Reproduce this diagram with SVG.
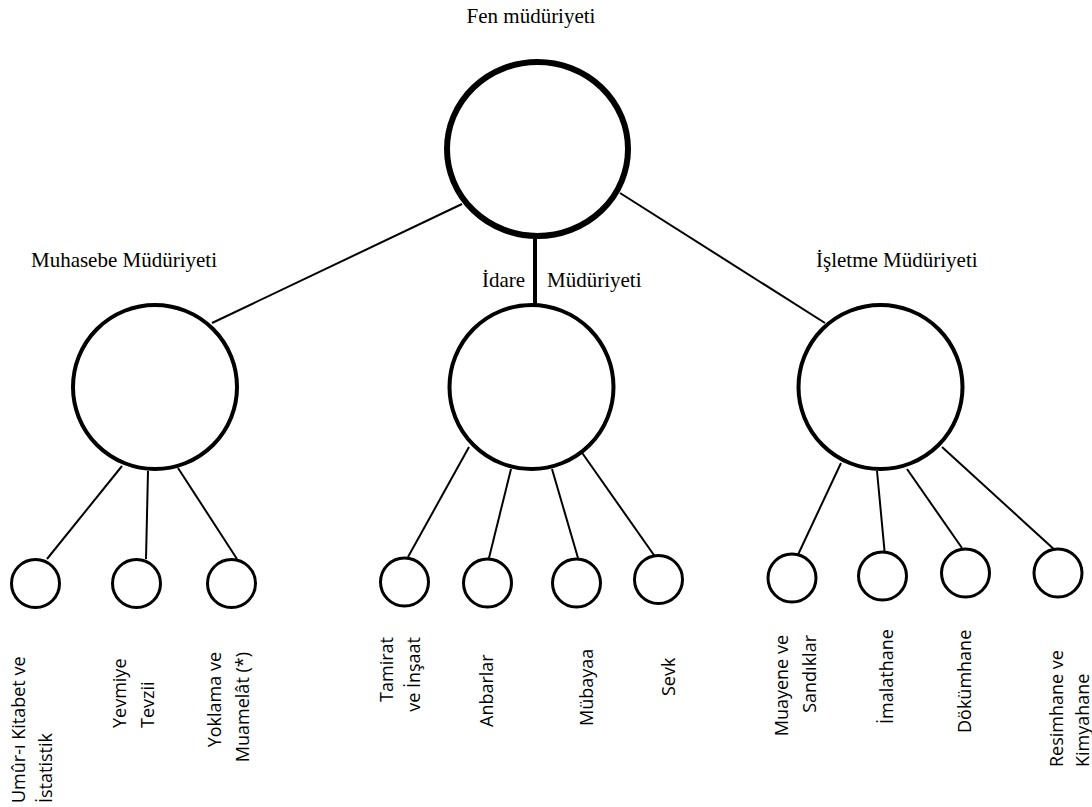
<svg xmlns="http://www.w3.org/2000/svg" width="1092" height="807" viewBox="0 0 1092 807">
<style>
.title{font-family:"Liberation Serif","Times New Roman",serif;font-size:21px;fill:#000}
.lbl{font-family:"Open Sans","Noto Sans",sans-serif;font-size:18px;fill:#000}
.top{fill:#fff;stroke:#000;stroke-width:6}
.mid{fill:#fff;stroke:#000;stroke-width:4}
.leaf{fill:#fff;stroke:#000;stroke-width:3}
.edge{stroke:#000;stroke-width:2;fill:none}
.trunk{stroke:#000;stroke-width:4;fill:none}
</style>
<rect width="1092" height="807" fill="#fff"/>
<g id="connectors">
<line class="edge" x1="462" y1="204" x2="212" y2="323"/>
<line class="edge" x1="620" y1="193" x2="825" y2="323"/>
<line class="trunk" x1="535" y1="236" x2="535" y2="305"/>
<line class="edge" x1="122" y1="466" x2="47" y2="559"/>
<line class="edge" x1="148" y1="471" x2="146" y2="559"/>
<line class="edge" x1="178" y1="468" x2="237" y2="559"/>
<line class="edge" x1="469" y1="447" x2="408" y2="557"/>
<line class="edge" x1="511" y1="469" x2="489" y2="558"/>
<line class="edge" x1="552" y1="469" x2="578" y2="558"/>
<line class="edge" x1="578" y1="447" x2="656" y2="558"/>
<line class="edge" x1="841" y1="463" x2="796" y2="559"/>
<line class="edge" x1="877" y1="471" x2="885" y2="556"/>
<line class="edge" x1="907" y1="469" x2="962" y2="548"/>
<line class="edge" x1="942" y1="447" x2="1057" y2="552"/>
</g>
<g id="fen">
<ellipse class="top" cx="537.5" cy="149" rx="90.5" ry="87"/>
<text class="title" x="531" y="23" text-anchor="middle">Fen müdüriyeti</text>
</g>
<g id="muhasebe">
<circle class="mid" cx="155" cy="387" r="82"/>
<text class="title" x="217" y="267" text-anchor="end">Muhasebe Müdüriyeti</text>
</g>
<g id="idare">
<circle class="mid" cx="531.5" cy="387" r="82"/>
<text class="title" x="482" y="287">İdare</text>
<text class="title" x="547" y="287">Müdüriyeti</text>
</g>
<g id="isletme">
<circle class="mid" cx="880.5" cy="387" r="82"/>
<text class="title" x="816" y="267">İşletme Müdüriyeti</text>
</g>
<g id="umur">
<circle class="leaf" cx="35.5" cy="583.5" r="24"/>
<text class="lbl" transform="translate(25,803) rotate(-90)"><tspan x="0" y="0">Umûr-ı Kitabet ve</tspan><tspan x="0" dy="27">İstatistik</tspan></text>
</g>
<g id="yevmiye">
<circle class="leaf" cx="136.5" cy="583.5" r="24"/>
<text class="lbl" transform="translate(126,728) rotate(-90)"><tspan x="0" y="0">Yevmiye</tspan><tspan x="0" dy="28">Tevzii</tspan></text>
</g>
<g id="yoklama">
<circle class="leaf" cx="231.5" cy="583.5" r="24"/>
<text class="lbl" text-anchor="end" transform="translate(221,652) rotate(-90)"><tspan x="0" y="0">Yoklama ve</tspan><tspan x="0" dy="28">Muamelât (*)</tspan></text>
</g>
<g id="tamirat">
<circle class="leaf" cx="404.5" cy="582" r="24"/>
<text class="lbl" text-anchor="end" transform="translate(393,637) rotate(-90)"><tspan x="0" y="0">Tamirat</tspan><tspan x="0" dy="27">ve İnşaat</tspan></text>
</g>
<g id="anbarlar">
<circle class="leaf" cx="487.5" cy="583" r="24"/>
<text class="lbl" transform="translate(493,727) rotate(-90)">Anbarlar</text>
</g>
<g id="mubayaa">
<circle class="leaf" cx="576.5" cy="583" r="24"/>
<text class="lbl" transform="translate(593,726) rotate(-90)">Mübayaa</text>
</g>
<g id="sevk">
<circle class="leaf" cx="658.5" cy="579.5" r="24"/>
<text class="lbl" transform="translate(675,696) rotate(-90)">Sevk</text>
</g>
<g id="muayene">
<circle class="leaf" cx="792" cy="578" r="24"/>
<text class="lbl" text-anchor="end" transform="translate(788,635) rotate(-90)"><tspan x="0" y="0">Muayene ve</tspan><tspan x="0" dy="28">Sandıklar</tspan></text>
</g>
<g id="imalathane">
<circle class="leaf" cx="882.5" cy="576" r="24"/>
<text class="lbl" transform="translate(893,724) rotate(-90)">İmalathane</text>
</g>
<g id="dokumhane">
<circle class="leaf" cx="965.5" cy="573" r="24"/>
<text class="lbl" transform="translate(971,733) rotate(-90)">Dökümhane</text>
</g>
<g id="resimhane">
<circle class="leaf" cx="1058" cy="573" r="24"/>
<text class="lbl" transform="translate(1063,767) rotate(-90)"><tspan x="0" y="0">Resimhane ve</tspan><tspan x="0" dy="26">Kimyahane</tspan></text>
</g>
</svg>
